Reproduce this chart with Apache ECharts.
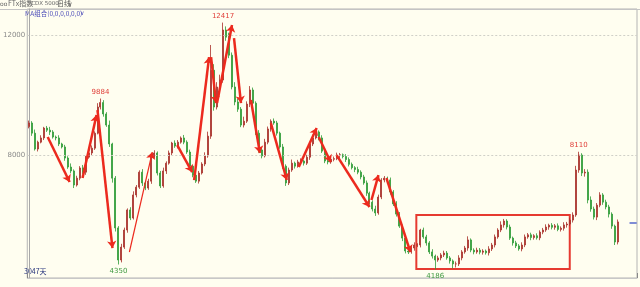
<!DOCTYPE html>
<html><head><meta charset="utf-8">
<script src="https://cdn.jsdelivr.net/npm/echarts@6/dist/echarts.min.js"></script>
<style>html,body{margin:0;padding:0;background:#fffef0;}#c{width:640px;height:287px;}</style>
</head><body><div id="c"></div>
<script>
// ---- data ----
const closes = [
9070,8730,8200,8430,8570,8900,8830,8770,8600,8570,
8370,8270,7900,7600,7470,7000,7230,7570,7430,7930,
8070,8230,8730,9600,9750,9370,9000,8370,7230,5570,
4500,4930,5500,6170,5900,6670,6930,7430,7070,6900,
7130,7930,8070,7400,6970,7470,7730,8070,8400,8300,
8430,8570,8430,8100,7630,7330,7130,7400,7700,7970,
8630,10830,9600,10270,10500,12170,11930,11330,10270,9770,
9530,9000,9130,9700,10170,9730,8730,8170,7970,8430,
8870,9130,9070,8730,8270,7630,7070,7500,7730,7630,
7770,7800,7730,7930,8370,8570,8770,8570,8130,7800,
7770,7860,7880,7990,8010,7950,7850,7690,7580,7520,
7430,7270,7070,6730,6430,6200,6070,6600,7170,7230,
7170,6770,6370,6030,5630,5230,4800,4770,4900,5000,
5000,5500,5270,5070,4770,4630,4500,4570,4670,4730,
4570,4470,4370,4370,4570,4770,4900,5170,4830,4770,
4830,4760,4800,4740,4870,5000,5270,5500,5670,5800,
5600,5230,5070,4970,4870,5000,5270,5340,5250,5310,
5240,5430,5500,5600,5660,5590,5640,5520,5560,5670,
5700,5830,6000,7500,8000,7400,7430,6500,6200,5930,
6330,6670,6430,6270,6030,5630,5100,5770
];
const wickUp = [
80,60,120,50,90,40,70,110,60,50,
90,40,70,60,120,50,80,60,100,40,
70,90,60,130,134,80,60,150,40,70,
60,110,80,50,90,120,70,60,100,50,
80,60,90,50,70,110,60,80,40,90,
70,50,100,60,80,40,90,70,60,120,
150,840,200,160,180,247,120,150,90,160,
110,70,150,90,130,80,60,100,70,110,
80,60,90,70,50,100,60,80,120,50,
70,90,40,80,60,110,70,50,90,60,
80,50,70,90,60,40,80,70,60,50,
90,60,70,80,50,60,110,80,60,70,
50,80,60,90,70,50,80,60,70,90,
60,40,80,70,60,90,50,70,60,80,
70,60,50,80,90,60,70,120,50,60,
80,70,60,50,90,70,80,60,120,70,
60,80,50,70,60,90,80,60,70,50,
80,60,70,90,50,70,60,80,60,90,
70,80,90,140,110,60,100,90,120,80,
70,90,60,80,70,60,50,80
];
const wickDown = [
60,90,50,80,40,70,60,100,50,80,
70,50,90,60,80,100,50,70,60,90,
50,70,60,40,80,90,60,100,150,120,
150,80,60,90,70,50,80,60,100,70,
60,90,50,80,70,60,100,50,70,60,
80,50,70,60,90,70,60,80,50,70,
60,90,120,80,60,90,120,100,80,110,
90,70,80,60,100,70,60,90,80,50,
70,90,60,80,60,90,100,70,60,80,
50,70,80,60,90,70,50,80,60,70,
80,60,70,50,90,60,80,70,60,90,
70,80,60,90,70,80,100,60,70,80,
60,90,70,80,60,100,80,70,60,90,
70,80,60,90,70,80,314,60,80,70,
60,90,150,120,70,80,60,90,70,80,
60,70,80,60,90,70,80,60,70,90,
80,60,90,70,60,80,70,60,90,70,
60,80,70,60,90,70,80,60,70,80,
90,70,80,60,90,100,120,110,90,80,
100,70,90,80,110,90,100,80
];
const firstOpen = 8950;
const totalSlots = 204;
const yTickLabels = [8000, 12000];
const yMin = 3900, yMax = 12870;
// extreme labels: [slot, price, text, isHigh]
const extremes = [
  [24, 9884, '9884', true],
  [65, 12417, '12417', true],
  [30, 4350, '4350', false],
  [136, 4186, '4186', false],
  [184, 8110, '8110', true]
];
// red arrows: [fromSlot, fromPrice, toSlot, toPrice, width]
const arrows = [
  [6.33, 8600, 13.67, 7100, 2.5],
  [18, 7233, 22.67, 9333, 2.5],
  [23, 9500, 28, 4900, 2.5],
  [33.67, 4767, 41.33, 8100, 1.2],
  [49.67, 8333, 54.67, 7433, 2.5],
  [55.33, 7167, 60.33, 11267, 2.5],
  [61, 11267, 62.67, 9733, 2.5],
  [63, 9733, 68, 12333, 2.5],
  [68.67, 11900, 71, 9733, 2.5],
  [74.33, 9833, 77.33, 8067, 2.5],
  [81, 9067, 86.33, 7167, 2.5],
  [90.33, 7600, 96.33, 8900, 2.5],
  [97, 8600, 101, 7767, 2.5],
  [103, 8000, 114, 6267, 2.5],
  [114.67, 6500, 117, 7333, 2.5],
  [119.67, 7233, 127.67, 4767, 2.5]
];
const box = [129.67, 6000, 181, 4200];
const lastMarker = [201.0, 203.4, 5740];
const endTickSlot = 197;

// ---- build ----
const categories = [];
for (let i = 0; i < totalSlots; i++) categories.push(String(i));
const ohlc = closes.map((c, i) => {
  const o = i === 0 ? firstOpen : closes[i - 1];
  return [o, c, Math.min(o, c) - wickDown[i], Math.max(o, c) + wickUp[i]];
});

const arrowLines = arrows.map(a => [
  {coord: [a[0], a[1]], lineStyle: {width: a[4]}},
  {coord: [a[2], a[3]]}
]);
const gridLines = yTickLabels.map(v => ({yAxis: v}));

const chart = echarts.init(document.getElementById('c'), null, {renderer: 'canvas'});
chart.setOption({
  animation: false,
  backgroundColor: '#fffef0',
  grid: {left: 23, right: 3, top: 9, bottom: 9, show: true, borderColor: '#b4b4b4', borderWidth: 1, backgroundColor: 'transparent'},
  xAxis: [
    {type: 'category', data: categories, boundaryGap: true,
     axisLine: {show: true, lineStyle: {color: '#c8c8c8'}},
     axisTick: {show: true, inside: true, length: 5, interval: (idx) => idx === endTickSlot, lineStyle: {color: '#888'}},
     axisLabel: {show: false}, splitLine: {show: false}},
    {type: 'value', min: -0.5, max: totalSlots - 0.5, show: false}
  ],
  yAxis: {
    type: 'value', min: yMin, max: yMax, interval: 100,
    axisLine: {show: true, lineStyle: {color: '#a8a8a8'}},
    axisTick: {show: false},
    splitLine: {show: false},
    axisLabel: {
      customValues: yTickLabels,
      formatter: v => (yTickLabels.indexOf(v) >= 0 ? String(v) : ''),
      fontSize: 7, color: '#8a8a8a', margin: 2, fontFamily: 'DejaVu Sans'
    }
  },
  series: [
    {
      type: 'candlestick', data: ohlc, barWidth: 1.5,
      itemStyle: {color: '#a8302a', color0: '#2f9c37', borderColor: '#a8302a', borderColor0: '#2f9c37', borderWidth: 0.8}
    },
    {
      type: 'line', xAxisIndex: 1, data: [[0, closes[0]]], symbol: 'none', lineStyle: {opacity: 0}, silent: true,
      markLine: {
        silent: true, symbol: ['none', 'none'], label: {show: false},
        lineStyle: {color: '#d0d0c8', type: [2, 2], width: 1},
        data: gridLines.concat([
          [{coord: [lastMarker[0], lastMarker[2]], lineStyle: {color: '#5566cc', type: 'solid', width: 1.5}}, {coord: [lastMarker[1], lastMarker[2]]}]
        ])
      }
    },
    {
      type: 'line', xAxisIndex: 1, data: [[0, closes[0]]], symbol: 'none', lineStyle: {opacity: 0}, silent: true,
      markLine: {
        silent: true, symbol: ['none', 'arrow'], symbolSize: 7, label: {show: false},
        lineStyle: {color: '#ec2a1e', type: 'solid', width: 2.5},
        data: arrowLines
      },
      markArea: {
        silent: true,
        itemStyle: {color: 'rgba(0,0,0,0)', borderColor: '#e63a30', borderWidth: 2},
        data: [[{coord: [box[0], box[1]]}, {coord: [box[2], box[3]]}]]
      },
      markPoint: {
        silent: true, symbol: 'circle', symbolSize: 0,
        data: extremes.map(e => ({
          coord: [e[0], e[1]], value: e[2],
          label: {show: true, formatter: e[2], position: e[3] ? 'top' : 'bottom', distance: 3,
                  fontSize: 7, fontFamily: 'DejaVu Sans', color: e[3] ? '#e0403a' : '#3f9a40'}
        }))
      }
    }
  ],
  graphic: [
    {type: 'line', shape: {x1: 0, y1: 9.5, x2: 640, y2: 9.5}, style: {stroke: '#c4c4c4', lineWidth: 1}},
    {type: 'text', x: 0, y: 1, style: {text: 'oo', font: '6px "DejaVu Sans"', fill: '#666'}},
    {type: 'text', x: 8, y: 0, style: {text: 'FTx指数', font: '7px "Noto Sans CJK SC"', fill: '#666'}},
    {type: 'text', x: 29, y: 1, style: {text: '(CDX 5000)', font: '5.5px "DejaVu Sans"', fill: '#666'}},
    {type: 'text', x: 57, y: 0, style: {text: '日线', font: '7px "Noto Sans CJK SC"', fill: '#555'}},
    {type: 'text', x: 68, y: 1, style: {text: '∨', font: '6px "DejaVu Sans"', fill: '#555'}},
    {type: 'text', x: 25, y: 10, style: {text: 'MA组合(0,0,0,0,0,0)', font: '6.5px "Noto Sans CJK SC"', fill: '#4a4ab8'}},
    {type: 'text', x: 80, y: 10, style: {text: '∨', font: '6px "DejaVu Sans"', fill: '#4a4ab8'}},
    {type: 'text', x: 24, y: 268, style: {text: '3047天', font: '7px "Noto Sans CJK SC"', fill: '#23307a'}}
  ]
});
</script></body></html>
